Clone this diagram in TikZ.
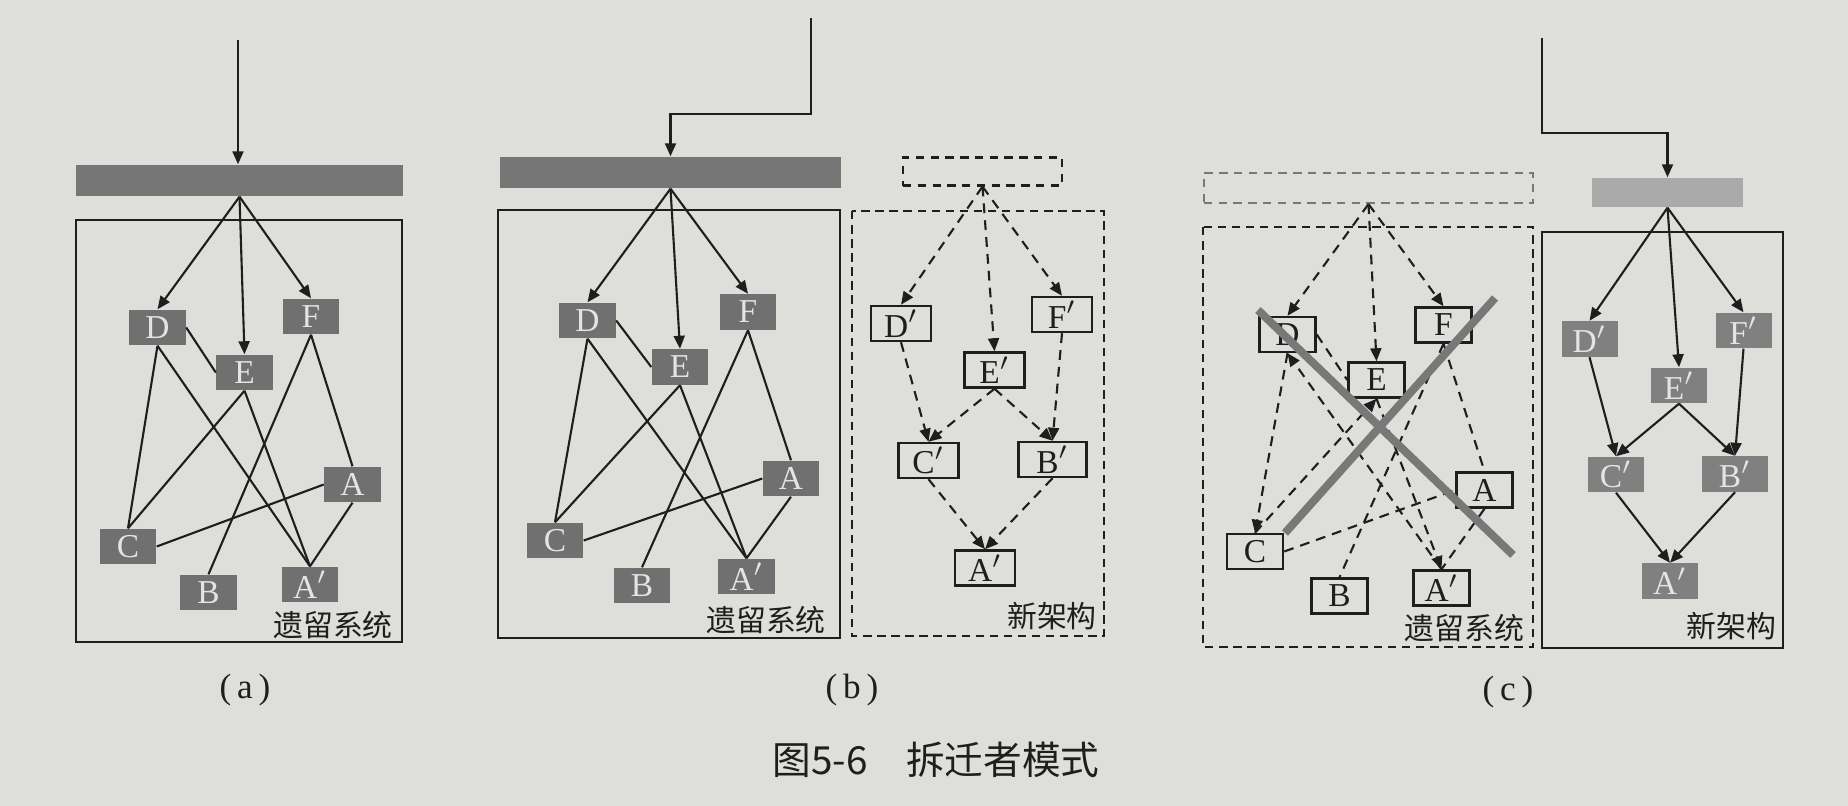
\documentclass[tikz,border=0pt]{standalone}
\usepackage{fontspec}
\setmainfont{Liberation Serif}
\newfontfamily\cjk{Noto Sans CJK SC}
\usepackage{tikz}
\usetikzlibrary{arrows.meta, positioning}

\definecolor{paper}{RGB}{222,222,218}
\definecolor{ink}{RGB}{30,30,30}
\definecolor{oldgray}{RGB}{112,112,112}
\definecolor{newgray}{RGB}{128,128,128}
\definecolor{bargray}{RGB}{118,118,118}
\definecolor{lightbar}{RGB}{170,170,170}
\definecolor{crossgray}{RGB}{120,120,120}
\definecolor{lettergray}{RGB}{228,228,228}

\begin{document}
\begin{tikzpicture}[
    x=0.01cm, y=-0.01cm,
    every node/.style={inner sep=0pt},
    modbox/.style={minimum width=0.56cm, minimum height=0.35cm, font=\fontsize{9.5}{10}\selectfont},
    oldmod/.style={modbox, fill=oldgray, text=lettergray},
    newmod/.style={modbox, fill=newgray, text=lettergray},
    plainmod/.style={modbox, draw=ink, line width=0.7pt, text=ink, minimum width=0.6cm},
    solidbar/.style={fill=bargray, minimum height=0.31cm},
    dashbar/.style={draw=ink, line width=0.6pt, dash pattern=on 2.4pt off 1.8pt, minimum height=0.28cm},
    boxframe/.style={draw=ink, line width=0.8pt},
    dashframe/.style={boxframe, dash pattern=on 2.4pt off 1.6pt},
    arrow/.style={-{Triangle[length=1.3mm, width=1.1mm]}, line width=0.6pt, draw=ink},
    dasharrow/.style={arrow, dash pattern=on 2.8pt off 2pt},
    link/.style={line width=0.6pt, draw=ink},
    dashlink/.style={link, dash pattern=on 2.8pt off 2pt},
    systag/.style={font=\cjk\fontsize{8.5}{9}\selectfont, text=ink},
    subcap/.style={font=\fontsize{10}{11}\selectfont, text=ink},
    crossline/.style={draw=crossgray, line width=0.08cm}
]
\fill[paper] (0,0) rectangle (1848,806);

% (a) Nodes
\coordinate (inA) at (238,40);
\node[solidbar, minimum width=3.27cm] (barA) at (239.5,180.5) {};
\draw[boxframe] (76,220) rectangle (402,642);
\node[oldmod] (aD) at (157.5,327.5) {D};
\node[oldmod] (aE) at (244.5,372.5) {E};
\node[oldmod] (aF) at (311,316.5) {F};
\node[oldmod] (aA) at (352.5,484.5) {A};
\node[oldmod] (aC) at (128,546.5) {C};
\node[oldmod] (aB) at (208.5,592.5) {B};
\node[oldmod] (aAp) at (310,584.5) {A$'$};
\node[systag] (tagA) at (333,625) {遗留系统};
\node[subcap] (subA) at (245,690) {(\,a\,)};

% (a) Edges
\draw[arrow] (inA) -- (inA |- barA.north);
\draw[arrow] (barA.south) -- (aD.north);
\draw[arrow] (barA.south) -- (aE.north);
\draw[arrow] (barA.south) -- (aF.north);
\draw[link] (aD.east) -- (aE.west);
\draw[link] (aD.south) -- (aC.north);
\draw[link] (aD.south) -- (aAp.north);
\draw[link] (aE.south) -- (aC.north);
\draw[link] (aE.south) -- (aAp.north);
\draw[link] (aF.south) -- (aB.north);
\draw[link] (aF.south) -- (aA.north);
\draw[link] (aC.east) -- (aA.west);
\draw[link] (aA.south) -- (aAp.north);

% (b) Nodes
\coordinate (inB) at (811,18);
\coordinate (bendB) at (811,114);
\node[solidbar, minimum width=3.41cm] (barB) at (670.5,172.5) {};
\draw[boxframe] (498,210) rectangle (840,638);
\node[oldmod] (bD) at (587.5,320.5) {D};
\node[oldmod] (bE) at (680,367) {E};
\node[oldmod] (bF) at (748,312) {F};
\node[oldmod] (bA) at (791,478.5) {A};
\node[oldmod] (bC) at (555,540.5) {C};
\node[oldmod] (bB) at (642,585.5) {B};
\node[oldmod] (bAp) at (746.5,576.5) {A$'$};
\node[systag] (tagB) at (766,620) {遗留系统};

\node[dashbar, minimum width=1.59cm] (nbarB) at (982.5,171.5) {};
\draw[dashframe] (852,211) rectangle (1104,636);
\node[plainmod] (bDn) at (901,323.5) {D$'$};
\node[plainmod] (bEn) at (994.5,370) {E$'$};
\node[plainmod] (bFn) at (1062,314.5) {F$'$};
\node[plainmod] (bCn) at (928.5,460.5) {C$'$};
\node[plainmod, minimum width=0.68cm] (bBn) at (1052.5,459.5) {B$'$};
\node[plainmod] (bApn) at (985,568) {A$'$};
\node[systag] (newtagB) at (1052,616) {新架构};
\node[subcap] (subB) at (852,690) {(\,b\,)};

% (b) Edges
\draw[arrow] (inB) -- (bendB) -| (barB.north);
\draw[arrow] (barB.south) -- (bD.north);
\draw[arrow] (barB.south) -- (bE.north);
\draw[arrow] (barB.south) -- (bF.north);
\draw[link] (bD.east) -- (bE.west);
\draw[link] (bD.south) -- (bC.north);
\draw[link] (bD.south) -- (bAp.north);
\draw[link] (bE.south) -- (bC.north);
\draw[link] (bE.south) -- (bAp.north);
\draw[link] (bF.south) -- (bB.north);
\draw[link] (bF.south) -- (bA.north);
\draw[link] (bC.east) -- (bA.west);
\draw[link] (bA.south) -- (bAp.north);

\draw[dasharrow] (nbarB.south) -- (bDn.north);
\draw[dasharrow] (nbarB.south) -- (bEn.north);
\draw[dasharrow] (nbarB.south) -- (bFn.north);
\draw[dasharrow] (bDn.south) -- (bCn.north);
\draw[dasharrow] (bEn.south) -- (bCn.north);
\draw[dasharrow] (bEn.south) -- (bBn.north);
\draw[dasharrow] (bFn.south) -- (bBn.north);
\draw[dasharrow] (bCn.south) -- (bApn.north);
\draw[dasharrow] (bBn.south) -- (bApn.north);

% (c) Nodes
\node[dashbar, draw=ink!60, minimum width=3.29cm, minimum height=0.3cm] (obarC) at (1368.5,188) {};
\draw[dashframe] (1203,227) rectangle (1533,647);
\node[plainmod, minimum width=0.56cm] (cD) at (1287.5,334.5) {D};
\node[plainmod, minimum width=0.56cm] (cE) at (1376.5,380) {E};
\node[plainmod, minimum width=0.56cm] (cF) at (1443.5,325) {F};
\node[plainmod, minimum width=0.56cm] (cA) at (1484.5,490) {A};
\node[plainmod, minimum width=0.56cm] (cC) at (1255,551.5) {C};
\node[plainmod, minimum width=0.56cm] (cB) at (1339.5,596) {B};
\node[plainmod, minimum width=0.56cm] (cAp) at (1441.5,588) {A$'$};
\node[systag] (tagC) at (1464.5,628) {遗留系统};

\coordinate (inC) at (1542,38);
\coordinate (bendC) at (1542,133);
\node[solidbar, fill=lightbar, minimum width=1.51cm, minimum height=0.29cm] (barC) at (1667.5,192.5) {};
\draw[boxframe] (1542,232) rectangle (1783,648);
\node[newmod] (cDn) at (1589.5,339) {D$'$};
\node[newmod] (cEn) at (1679,385.5) {E$'$};
\node[newmod] (cFn) at (1743.5,330.5) {F$'$};
\node[newmod] (cCn) at (1616,474.5) {C$'$};
\node[newmod, minimum width=0.66cm] (cBn) at (1735,474) {B$'$};
\node[newmod] (cApn) at (1670,581) {A$'$};
\node[systag] (newtagC) at (1731.5,626) {新架构};
\node[subcap] (subC) at (1508,692) {(\,c\,)};

% (c) Edges
\draw[dasharrow] (obarC.south) -- (cD.north);
\draw[dasharrow] (obarC.south) -- (cE.north);
\draw[dasharrow] (obarC.south) -- (cF.north);
\draw[dashlink] (cD.east) -- (cE.west);
\draw[dasharrow] (cD.south) -- (cC.north);
\draw[dasharrow] (cAp.north) -- (cD.south);
\draw[dasharrow] (cC.north) -- (cE.south);
\draw[dasharrow] (cE.south) -- (cAp.north);
\draw[dashlink] (cF.south) -- (cB.north);
\draw[dashlink] (cF.south) -- (cA.north);
\draw[dashlink] (cC.east) -- (cA.west);
\draw[dashlink] (cA.south) -- (cAp.north);
\draw[crossline] (1258,310) -- (1513,555);
\draw[crossline] (1495,298) -- (1285,533);

\draw[arrow] (inC) -- (bendC) -| (barC.north);
\draw[arrow] (barC.south) -- (cDn.north);
\draw[arrow] (barC.south) -- (cEn.north);
\draw[arrow] (barC.south) -- (cFn.north);
\draw[arrow] (cDn.south) -- (cCn.north);
\draw[arrow] (cEn.south) -- (cCn.north);
\draw[arrow] (cEn.south) -- (cBn.north);
\draw[arrow] (cFn.south) -- (cBn.north);
\draw[arrow] (cCn.south) -- (cApn.north);
\draw[arrow] (cBn.south) -- (cApn.north);

% Caption
\node[font=\cjk\fontsize{11}{12}\selectfont, text=ink] (caption) at (936,760) {图5-6\quad 拆迁者模式};
\end{tikzpicture}
\end{document}
